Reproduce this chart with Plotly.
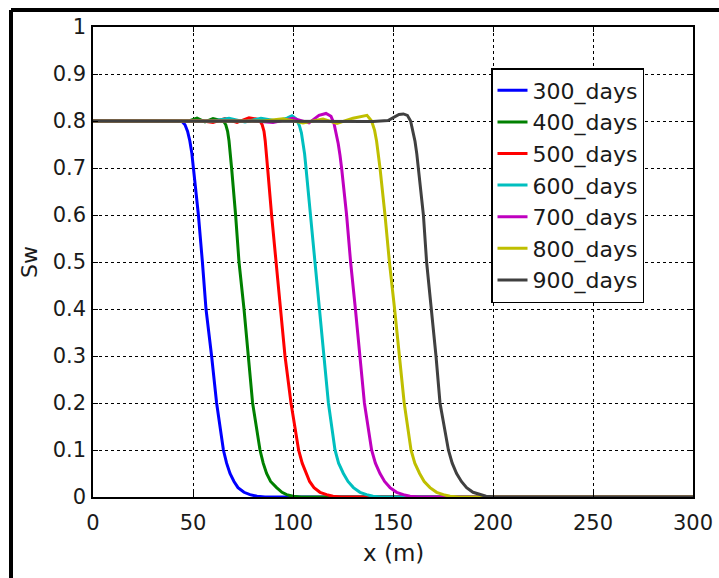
import plotly.graph_objects as go

# ---------------- data ----------------
names = ["300_days", "400_days", "500_days", "600_days", "700_days", "800_days", "900_days"]
colors = ["#0000FF", "#008000", "#FF0000", "#00BFBF", "#BF00BF", "#BFBF00", "#404040"]

x_300 = [0, 44.3, 46, 47.3, 48.4, 49.4, 50.2, 52.7, 54.7, 56.5, 59.3, 61.8, 65.2, 66.8, 68.5, 70.5, 72.5, 75.5, 78.5, 82, 86, 300]
y_300 = [0.8, 0.8, 0.792, 0.778, 0.758, 0.732, 0.7, 0.6, 0.5, 0.4, 0.3, 0.2, 0.1, 0.072, 0.05, 0.033, 0.02, 0.01, 0.005, 0.0015, 0, 0]

x_400 = [0, 48, 52, 56, 60, 63.5, 65.2, 66.4, 67.3, 68.0, 68.7, 69.3, 71.3, 73, 75.5, 77.7, 79.8, 83.5, 85.1, 86.8, 88.8, 91.8, 94.5, 96.8, 100, 104, 300]
y_400 = [0.8, 0.8, 0.806, 0.798, 0.805, 0.801, 0.8, 0.792, 0.778, 0.758, 0.732, 0.7, 0.6, 0.5, 0.4, 0.3, 0.2, 0.1, 0.072, 0.05, 0.033, 0.02, 0.01, 0.005, 0.0015, 0, 0]

x_500 = [0, 55, 60, 66, 72, 78, 82, 83.5, 84.6, 85.5, 86.1, 86.7, 87.3, 89.3, 91.5, 94, 96, 99, 102.8, 104.6, 106.5, 108.3, 110.5, 113.5, 116.8, 120, 124, 300]
y_500 = [0.8, 0.8, 0.797, 0.805, 0.797, 0.807, 0.804, 0.8, 0.792, 0.778, 0.758, 0.732, 0.7, 0.6, 0.5, 0.4, 0.3, 0.2, 0.1, 0.072, 0.05, 0.033, 0.02, 0.01, 0.005, 0.0015, 0, 0]

x_600 = [0, 60, 68, 76, 84, 92, 97, 99.5, 101.8, 103.2, 104.2, 105.0, 105.8, 106.5, 108.8, 111, 113.3, 115.4, 117.7, 121, 122.8, 125.2, 127.5, 130.2, 133.5, 136.8, 140, 144, 300]
y_600 = [0.8, 0.8, 0.806, 0.798, 0.806, 0.8, 0.806, 0.811, 0.804, 0.79, 0.775, 0.755, 0.73, 0.7, 0.6, 0.5, 0.4, 0.3, 0.2, 0.1, 0.072, 0.05, 0.033, 0.02, 0.01, 0.005, 0.0015, 0, 0]

x_700 = [0, 80, 90, 100, 108, 113, 116.5, 119, 120.5, 121.6, 122.6, 123.5, 124.3, 126.8, 128.8, 131.2, 133.3, 135.7, 139.3, 141.2, 143.5, 145.8, 148.5, 151.8, 155.2, 158.5, 163, 300]
y_700 = [0.8, 0.8, 0.797, 0.806, 0.796, 0.812, 0.816, 0.81, 0.795, 0.775, 0.752, 0.727, 0.7, 0.6, 0.5, 0.4, 0.3, 0.2, 0.1, 0.072, 0.05, 0.033, 0.02, 0.01, 0.005, 0.0015, 0, 0]

x_800 = [0, 85, 95, 105, 115, 122, 130, 134, 137, 139.3, 140.8, 141.8, 142.7, 143.5, 146, 148.2, 150.8, 153.3, 155.6, 159, 160.9, 163.3, 165.6, 168.5, 171.8, 175.2, 178.5, 183, 300]
y_800 = [0.8, 0.8, 0.805, 0.796, 0.804, 0.795, 0.806, 0.81, 0.812, 0.8, 0.78, 0.757, 0.73, 0.7, 0.6, 0.5, 0.4, 0.3, 0.2, 0.1, 0.072, 0.05, 0.033, 0.02, 0.01, 0.005, 0.0015, 0, 0]

x_900 = [0, 140, 147.5, 150.5, 153, 155.2, 157.2, 158.8, 160, 161, 161.9, 162.7, 165.2, 166.8, 169.3, 171.5, 173.5, 177.7, 179.6, 181.8, 184.2, 186.8, 190, 193.5, 196.5, 201, 300]
y_900 = [0.8, 0.799, 0.801, 0.808, 0.814, 0.815, 0.812, 0.8, 0.78, 0.757, 0.73, 0.7, 0.6, 0.5, 0.4, 0.3, 0.2, 0.1, 0.072, 0.05, 0.033, 0.02, 0.01, 0.005, 0.0015, 0, 0]

xs = [x_300, x_400, x_500, x_600, x_700, x_800, x_900]
ys = [y_300, y_400, y_500, y_600, y_700, y_800, y_900]

x_ticks = [0, 50, 100, 150, 200, 250, 300]
y_ticks = [0, 0.1, 0.2, 0.3, 0.4, 0.5, 0.6, 0.7, 0.8, 0.9, 1]
y_ticktext = ["0", "0.1", "0.2", "0.3", "0.4", "0.5", "0.6", "0.7", "0.8", "0.9", "1"]

# ---------------- figure ----------------
FONT = "DejaVu Sans"
fig = go.Figure()
for n, c, x, y in zip(names, colors, xs, ys):
    fig.add_trace(go.Scatter(x=x, y=y, mode="lines", name=n,
                             line=dict(color=c, width=3)))

axis_common = dict(showline=True, linecolor="black", linewidth=1.5, mirror="allticks",
                   ticks="inside", ticklen=5, tickcolor="black",
                   showgrid=True, gridcolor="black", gridwidth=1, griddash="dot",
                   zeroline=False, automargin=False,
                   tickfont=dict(family=FONT, size=21, color="#1a1a1a"))

fig.update_xaxes(range=[0, 300], tickvals=x_ticks, ticktext=[str(v) for v in x_ticks],
                 ticklabelstandoff=6, **axis_common)
fig.update_yaxes(range=[0, 1], tickvals=y_ticks, ticktext=y_ticktext, ticklabelstandoff=1,
                 **axis_common)

fig.update_layout(
    width=719, height=578,
    margin=dict(l=93, r=26, t=27, b=81),
    paper_bgcolor="white", plot_bgcolor="white",
    showlegend=True,
    legend=dict(x=(491 - 93) / 600, y=(497 - 68) / 470, xanchor="left", yanchor="top",
                bgcolor="white", bordercolor="black", borderwidth=1.5,
                font=dict(family=FONT, size=22, color="#1a1a1a"),
                tracegroupgap=0),
    annotations=[
        dict(text="x (m)", xref="paper", yref="paper", x=0.5, y=(497 - 553) / 470,
             showarrow=False, xanchor="center", yanchor="middle",
             font=dict(family=FONT, size=23, color="#1a1a1a")),
        dict(text="Sw", xref="paper", yref="paper", x=(29 - 93) / 600, y=0.5,
             showarrow=False, xanchor="center", yanchor="middle", textangle=-90,
             font=dict(family=FONT, size=22, color="#1a1a1a")),
    ],
    shapes=[
        dict(type="line", xref="paper", yref="paper",
             x0=(11 - 93) / 600, x1=1.06, y0=(497 - 10) / 470, y1=(497 - 10) / 470,
             line=dict(color="black", width=4)),
        dict(type="line", xref="paper", yref="paper",
             x0=(11 - 93) / 600, x1=(11 - 93) / 600, y0=(497 - 10) / 470, y1=-0.2,
             line=dict(color="black", width=4)),
    ],
)

fig.write_html("out.html", config={"displayModeBar": False},
               post_script="document.body.style.margin='0px';")
